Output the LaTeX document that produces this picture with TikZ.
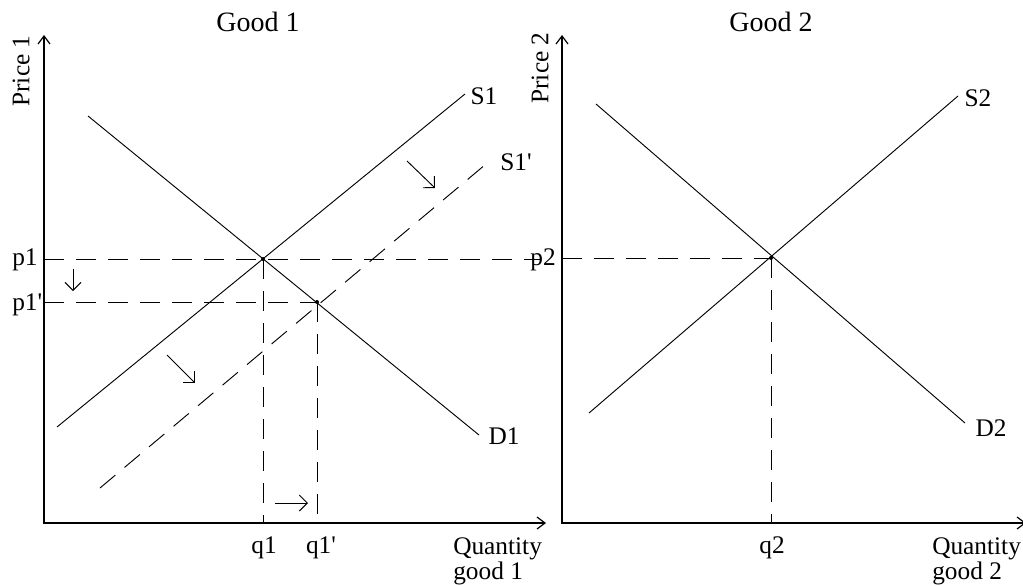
\documentclass[tikz,border=0pt]{standalone}
\usepackage{fontspec}
\setmainfont{Liberation Serif}[Ligatures=TeXOff]
\usetikzlibrary{arrows.meta}
\begin{document}
\begin{tikzpicture}[x=0.75pt,y=-0.75pt,
  lbl/.style={font=\fontsize{19}{21}\selectfont, inner sep=0pt},
  ttl/.style={font=\fontsize{21}{23}\selectfont, inner sep=0pt},
  axis/.style={line width=0.9pt, {Straight Barb[length=6pt,width=9pt]}-{Straight Barb[length=6pt,width=9pt]}},
  curve/.style={line width=0.7pt},
  dsh/.style={line width=0.7pt, dash pattern=on 15pt off 9pt},
  shiftarrow/.style={line width=0.7pt, -{Straight Barb[length=6pt,width=12pt]}},
  eq/.style={circle, fill, inner sep=0pt, minimum size=3pt}]
\useasboundingbox (0,0) rectangle (1023,585);

% ---------- Good 1 ----------
\coordinate (Y1) at (44,35);
\coordinate (O1) at (44,523);
\coordinate (X1) at (546,523);
\draw[axis] (Y1) -- (O1) -- (X1);

\node[eq] (E1) at (263,259) {};
\node[eq] (E1p) at (317,302) {};

\coordinate (D1a) at (88,116);
\coordinate (D1b) at (479,435);
\coordinate (S1a) at (57,427);
\coordinate (S1b) at (465,94);
\coordinate (S1pa) at (100,488);
\coordinate (S1pb) at (492,159);
\draw[curve] (D1a) -- (D1b);
\draw[curve] (S1a) -- (S1b);
\draw[dsh] (S1pa) -- (S1pb);

\coordinate (P1a) at (44,259);
\coordinate (P1b) at (540,259);
\coordinate (P1pa) at (44,302);
\coordinate (Q1a) at (263,523);
\coordinate (Q1pa) at (317,523);
\draw[dsh] (P1a) -- (P1b);
\draw[dsh] (P1pa) -- (E1p.center);
\draw[dsh] (E1.center) -- (Q1a);
\draw[dsh] (E1p.center) -- (Q1pa);

\coordinate (A1a) at (73,269);
\coordinate (A1b) at (73,291);
\coordinate (A2a) at (407,161);
\coordinate (A2b) at (435,188);
\coordinate (A3a) at (167,355);
\coordinate (A3b) at (195,383);
\coordinate (A4a) at (275,503);
\coordinate (A4b) at (308,503);
\draw[shiftarrow] (A1a) -- (A1b);
\draw[shiftarrow] (A2a) -- (A2b);
\draw[shiftarrow] (A3a) -- (A3b);
\draw[shiftarrow] (A4a) -- (A4b);

\node[ttl] (T1) at (258,22) {Good 1};
\node[lbl, rotate=90] (PY1) at (21,71) {Price 1};
\node[lbl, anchor=west] (LP1) at (12,260) {p1};
\node[lbl, anchor=west] (LP1p) at (12,305) {p1'};
\node[lbl] (LQ1) at (264,548) {q1};
\node[lbl] (LQ1p) at (321,548) {q1'};
\node[lbl, anchor=west] (QT1) at (453,549) {Quantity};
\node[lbl, anchor=west] (G1) at (453,573) {good 1};
\node[lbl] (LS1) at (484,96) {S1};
\node[lbl] (LS1p) at (516,162) {S1'};
\node[lbl] (LD1) at (504,436) {D1};

% ---------- Good 2 ----------
\coordinate (Y2) at (562,35);
\coordinate (O2) at (562,523);
\coordinate (X2) at (1026,523);
\draw[axis] (Y2) -- (O2) -- (X2);

\node[eq] (E2) at (771,258) {};
\coordinate (D2a) at (596,104);
\coordinate (D2b) at (965,423);
\coordinate (S2a) at (589,413);
\coordinate (S2b) at (958,96);
\draw[curve] (D2a) -- (D2b);
\draw[curve] (S2a) -- (S2b);

\coordinate (P2a) at (562,258);
\coordinate (Q2a) at (771,523);
\draw[dsh] (P2a) -- (E2.center);
\draw[dsh] (E2.center) -- (Q2a);

\node[ttl] (T2) at (771,22) {Good 2};
\node[lbl, rotate=90] (PY2) at (540,68) {Price 2};
\node[lbl, anchor=east] (LP2) at (556,260) {p2};
\node[lbl] (LQ2) at (772,548) {q2};
\node[lbl, anchor=west] (QT2) at (932,549) {Quantity};
\node[lbl, anchor=west] (G2) at (932,573) {good 2};
\node[lbl] (LS2) at (978,98) {S2};
\node[lbl] (LD2) at (991,428) {D2};
\end{tikzpicture}
\end{document}
